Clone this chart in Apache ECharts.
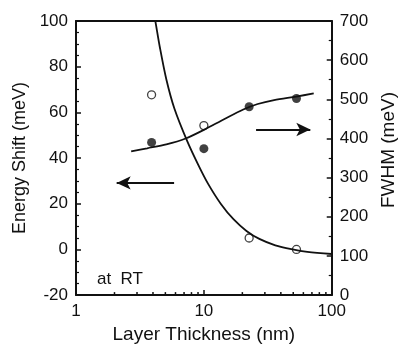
<!DOCTYPE html>
<html>
<head>
<meta charset="utf-8">
<script src="https://cdn.jsdelivr.net/npm/echarts@6/dist/echarts.min.js"></script>
<style>
  html, body { margin: 0; padding: 0; background: #fff; }
  #chart { width: 406px; height: 349px; }
</style>
</head>
<body>
<div id="chart"></div>
<script>
// measured points (thickness nm, value)
const shiftPoints = [[3.9, 67.7], [10, 54.2], [22.6, 5.0], [53, 0]];
const fwhmPoints = [[3.9, 390], [10, 374], [22.6, 481], [53, 502]];

// fitted curves
const shiftFit = [
  [4.1, 102], [4.16, 100.4], [4.53, 88.4], [5.09, 74.4], [5.88, 61.7], [7.41, 47.4],
  [9.06, 36.9], [10.77, 28.8], [13.59, 19.9], [17.11, 13.1], [21.54, 8.1],
  [27.15, 4.6], [36.2, 1.8], [48.3, 0.1], [64.5, -1.1], [100, -2.0]
];
const fwhmFit = [
  [2.7, 367], [3.6, 375], [5.09, 385], [7.2, 400], [10, 422], [14.38, 449],
  [20.34, 474], [26.37, 488], [35.4, 498], [52.7, 507], [72.3, 515]
];

const xMinorTicks = [2, 3, 4, 5, 6, 7, 8, 9, 20, 30, 40, 50, 60, 70, 80, 90];
const xLabels = { 1: '1', 10: '10', 100: '100' };

const font = '"Liberation Sans", Arial, sans-serif';
const black = '#111';

const chart = echarts.init(document.getElementById('chart'));

chart.setOption({
  animation: false,
  grid: { left: 76, right: 64, top: 21, bottom: 46 },
  xAxis: [
    {
      type: 'log', logBase: 10, min: 1, max: 100,
      name: 'Layer Thickness (nm)', nameLocation: 'middle', nameGap: 28,
      nameTextStyle: { fontFamily: font, fontSize: 19, color: black },
      axisLine: { onZero: false, lineStyle: { color: black, width: 2 } },
      axisTick: { inside: true, length: 5, lineStyle: { color: black, width: 1.5 } },
      axisLabel: {
        fontFamily: font, fontSize: 17, color: black, margin: 8,
        formatter: (v) => xLabels[Math.round(v)] ?? ''
      },
      splitLine: { show: false }
    },
    {
      type: 'log', logBase: 10, min: 1, max: 100, position: 'top',
      axisLine: { onZero: false, lineStyle: { color: black, width: 2 } },
      axisTick: { show: false }, axisLabel: { show: false }, splitLine: { show: false }
    }
  ],
  yAxis: [
    {
      type: 'value', min: -20, max: 100, interval: 20,
      name: 'Energy Shift (meV)', nameLocation: 'middle', nameGap: 47,
      nameTextStyle: { fontFamily: font, fontSize: 18, color: black },
      axisLine: { show: true, lineStyle: { color: black, width: 2 } },
      axisTick: { inside: true, length: 5, lineStyle: { color: black, width: 1.5 } },
      minorTick: { show: true, splitNumber: 4, length: 3, lineStyle: { color: black, width: 1.2 } },
      axisLabel: { fontFamily: font, fontSize: 17, color: black, margin: 8 },
      splitLine: { show: false }
    },
    {
      type: 'value', min: 0, max: 700, interval: 100, position: 'right',
      name: 'FWHM (meV)', nameLocation: 'middle', nameGap: 43,
      nameTextStyle: { fontFamily: font, fontSize: 19, color: black, padding: [0, 0, 0, 16] },
      axisLine: { show: true, lineStyle: { color: black, width: 2 } },
      axisTick: { inside: true, length: 5, lineStyle: { color: black, width: 1.5 } },
      minorTick: { show: true, splitNumber: 2, length: 3, lineStyle: { color: black, width: 1.2 } },
      axisLabel: { fontFamily: font, fontSize: 17, color: black, margin: 8 },
      splitLine: { show: false }
    }
  ],
  graphic: [
    {
      type: 'text', left: 97, top: 271,
      style: { text: 'at  RT', font: '17px ' + font, fill: black }
    }
  ],
  series: [
    {
      type: 'custom',
      silent: true,
      data: xMinorTicks,
      renderItem: (params, api) => {
        const x = api.value(0);
        const p = api.coord([x, -20]);
        return {
          type: 'line',
          shape: { x1: p[0], y1: p[1], x2: p[0], y2: p[1] - 3 },
          style: { stroke: black, lineWidth: 1.5 }
        };
      },
      encode: { x: 0 }
    },
    {
      type: 'line', data: shiftFit, yAxisIndex: 0,
      smooth: 0.3, showSymbol: false, clip: true,
      lineStyle: { color: black, width: 1.8 },
      markLine: {
        silent: true, symbol: ['none', 'arrow'], symbolSize: [10, 14],
        label: { show: false },
        lineStyle: { color: black, width: 2, type: 'solid' },
        data: [[{ coord: [5.85, 29.1] }, { coord: [2.08, 29.1] }]]
      }
    },
    {
      type: 'line', data: fwhmFit, yAxisIndex: 1,
      smooth: 0.3, showSymbol: false,
      lineStyle: { color: black, width: 1.8 },
      markLine: {
        silent: true, symbol: ['none', 'arrow'], symbolSize: [10, 14],
        label: { show: false },
        lineStyle: { color: black, width: 2, type: 'solid' },
        data: [[{ coord: [25.6, 423] }, { coord: [68, 423] }]]
      }
    },
    {
      type: 'scatter', data: shiftPoints, yAxisIndex: 0,
      symbol: 'circle', symbolSize: 8,
      itemStyle: { color: '#fff', borderColor: black, borderWidth: 1.3 }
    },
    {
      type: 'scatter', data: fwhmPoints, yAxisIndex: 1,
      symbol: 'circle', symbolSize: 9,
      itemStyle: { color: black }
    }
  ]
});
</script>
</body>
</html>
